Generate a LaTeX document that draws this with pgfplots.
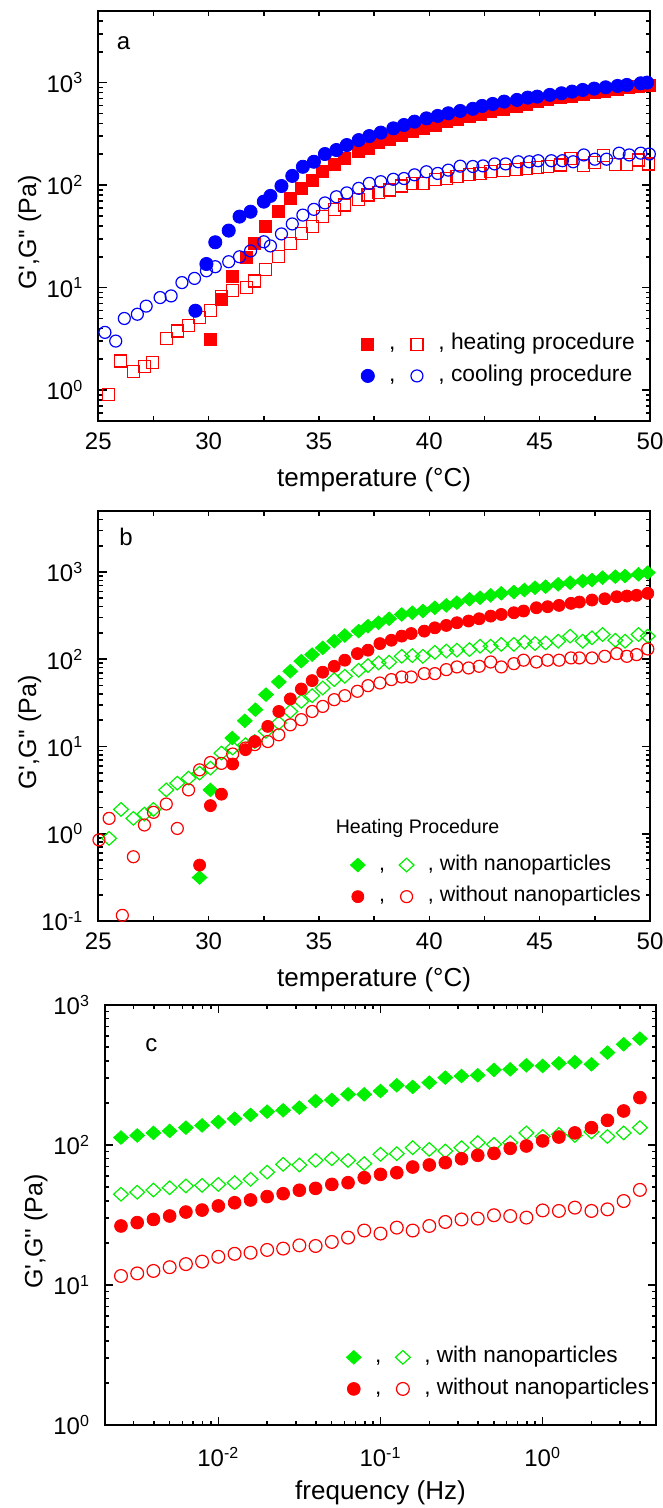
\documentclass[border=0pt]{standalone}
\usepackage{fontspec}
\setmainfont{Liberation Sans}
\usepackage{pgfplots}
\pgfplotsset{compat=1.18}
\definecolor{cred}{RGB}{255,0,0}
\definecolor{cblue}{RGB}{0,0,255}
\definecolor{cgreen}{RGB}{0,240,0}
\pgfplotsset{
  myaxis/.style={
    scale only axis,
    anchor=south west,
    axis line style={line width=1pt},
    tick style={line width=0.8pt, black},
    major tick length=4.2pt,
    minor tick length=2.2pt,
    tick align=inside,
    xtick pos=both, ytick pos=both,
    xticklabel pos=bottom, yticklabel pos=left,
    tick label style={font=\fontsize{12}{14}\selectfont},
    xticklabel style={yshift=-2.5pt},
    yticklabel style={xshift=-4pt},
    every axis y label/.style={at={(axis description cs:-0.1245,0.46)}, rotate=90, anchor=center, font=\fontsize{12.5}{15}\selectfont},
    every axis x label/.style={at={(axis description cs:0.5,-0.144)}, anchor=center, font=\fontsize{13}{15}\selectfont},
    legend cell align=left,
    legend image code/.code={\path (0pt,0pt) (13pt,0pt); \draw[mark repeat=2,mark phase=2] plot coordinates {(0pt,0pt)(6.5pt,0pt)(13pt,0pt)};},
    legend style={draw=none, fill=none, legend columns=2, inner sep=0pt, row sep=4.5pt,
      nodes={inner xsep=4pt, inner ysep=1pt, text height=0.72em, text depth=0.21em}, anchor=north west},
  },
  fsq/.style={only marks, mark=square*, color=cred, mark size=3pt},
  osq/.style={only marks, mark=square, color=cred, mark size=3pt, mark options={fill=white, line width=0.6pt}},
  fci/.style={only marks, mark=*, color=#1, mark size=3.3pt},
  oci/.style={only marks, mark=o, color=#1, mark size=3pt, mark options={fill=white, line width=0.6pt}},
  fdi/.style={only marks, mark=diamond*, color=cgreen, mark size=3.4pt, mark options={xscale=1.45}},
  odi/.style={only marks, mark=diamond, color=cgreen, mark size=3.4pt, mark options={xscale=1.45, fill=white, line width=0.6pt}},
}
\begin{document}
\begin{tikzpicture}
\path[use as bounding box] (0,0) rectangle (331.5pt,754pt);
% ---------------- panel a
\begin{axis}[myaxis, at={(49.15pt,543.5pt)}, width=275.85pt, height=205pt,
  xmin=25, xmax=50, ymode=log, ymin=0.5, ymax=5000,
  xtick={25,30,35,40,45,50}, xticklabels={25,30,35,40,45,50}, minor x tick num=1,
  xtick style={/pgfplots/major tick length=2.6pt, /pgfplots/minor tick length=2.6pt},
  ytick={1,10,100,1000}, yticklabels={10\textsuperscript{0},10\textsuperscript{1},10\textsuperscript{2},10\textsuperscript{3}},
  minor ytick={0.5,0.6,0.7,0.8,0.9,2,3,4,5,6,7,8,9,20,30,40,50,60,70,80,90,200,300,400,500,600,700,800,900,2000,3000,4000,5000},
  xlabel={temperature (°C)}, ylabel={G\textquotesingle,G\textquotesingle\textquotesingle{} (Pa)},
  legend style={at={(rel axis cs:0.4635,0.2155)}, font=\fontsize{11.4}{13}\selectfont},
]
\addplot[fsq] coordinates {(30.08,3.13)(30.58,7.7)(31.09,12.8)(31.7,19.8)(32.09,27)(32.59,39.3)(33.18,55)(33.7,74)(34.2,93)(34.69,112)(35.17,135)(35.69,160)(36.17,182)(36.8,212)(37.22,229)(37.7,260)(38.18,280)(38.75,308)(39.23,332)(39.71,358)(40.29,386)(40.77,416)(41.25,438)(41.82,466)(42.30,494)(42.78,521)(43.35,550)(43.93,583)(44.41,619)(44.89,653)(45.36,688)(45.94,719)(46.42,741)(46.99,769)(47.47,798)(47.95,829)(48.52,861)(49.0,894)(49.48,928)(49.96,949)};
\addlegendentry{,}
\addplot[osq] coordinates {(25.46,0.91)(25.99,1.92)(26.59,1.53)(27.09,1.69)(27.47,1.86)(28.08,3.2)(28.59,3.77)(29.09,4.3)(29.59,5.1)(30.08,6.0)(30.58,8.15)(31.09,9.3)(31.7,10.1)(32.09,11.6)(32.59,15.1)(33.18,20)(33.70,27)(34.20,33.8)(34.69,39.3)(35.17,49.2)(35.69,58)(36.17,64)(36.80,73)(37.22,80)(37.70,84)(38.18,89.5)(38.75,98)(39.23,104)(39.71,104)(40.29,114)(40.77,116)(41.25,121)(41.82,128)(42.30,130)(42.78,135)(43.35,138)(43.93,143)(44.41,146)(44.89,149)(45.36,151)(45.94,157)(46.42,181)(46.99,156)(47.47,166)(47.90,193)(48.45,158)(48.94,158)(49.47,176)(49.92,161)};
\addlegendentry{, heating procedure}
\addplot[fci=cblue] coordinates {(29.4,5.95)(29.9,17)(30.3,27.7)(30.91,36)(31.4,49.3)(31.9,55)(32.5,69)(32.8,78.5)(33.3,98)(33.79,123)(34.27,151)(34.77,169)(35.27,201)(35.79,220)(36.26,246)(36.8,275)(37.28,301)(37.8,325)(38.37,358)(38.85,386)(39.33,416)(39.87,448)(40.38,473)(40.86,502)(41.4,529)(41.97,555)(42.39,592)(42.87,619)(43.39,653)(43.97,678)(44.46,714)(44.89,730)(45.46,759)(45.99,787)(46.47,817)(46.95,848)(47.47,874)(47.99,900)(48.53,928)(48.95,949)(49.58,985)(49.87,1000)};
\addlegendentry{,}
\addplot[oci=cblue] coordinates {(25.3,3.66)(25.79,3.01)(26.18,5.0)(26.77,5.5)(27.17,6.6)(27.8,8.0)(28.3,8.3)(28.79,11.2)(29.36,12.3)(29.9,14.6)(30.3,16)(30.91,17.9)(31.4,20)(31.9,22.8)(32.5,28)(32.8,25.5)(33.3,33.4)(33.79,41.8)(34.27,51)(34.77,58)(35.27,67)(35.79,77)(36.26,84)(36.8,93)(37.28,104)(37.8,108)(38.37,114)(38.85,116)(39.33,126)(39.87,135)(40.38,130)(40.86,140)(41.4,153)(41.97,152)(42.43,154)(42.96,161)(43.46,161)(44.03,169)(44.53,169)(44.93,173)(45.53,173)(46.03,173)(46.52,169)(47.0,197)(47.5,179)(48.03,179)(48.6,205)(49.06,197)(49.58,205)(49.97,201)};
\addlegendentry{, cooling procedure}
\node[font=\fontsize{12}{14}\selectfont] at (rel axis cs:0.0457,0.922) {a};
\end{axis}
% ---------------- panel b
\begin{axis}[myaxis, at={(49.15pt,293.5pt)}, width=275.85pt, height=205pt,
  xmin=25, xmax=50, ymode=log, ymin=0.1, ymax=5000,
  xtick={25,30,35,40,45,50}, xticklabels={25,30,35,40,45,50}, minor x tick num=1,
  xtick style={/pgfplots/major tick length=2.6pt, /pgfplots/minor tick length=2.6pt},
  ytick={0.1,1,10,100,1000}, yticklabels={10\textsuperscript{-1},10\textsuperscript{0},10\textsuperscript{1},10\textsuperscript{2},10\textsuperscript{3}},
  minor ytick={0.2,0.3,0.4,0.5,0.6,0.7,0.8,0.9,2,3,4,5,6,7,8,9,20,30,40,50,60,70,80,90,200,300,400,500,600,700,800,900,2000,3000,4000,5000},
  xlabel={temperature (°C)}, ylabel={G\textquotesingle,G\textquotesingle\textquotesingle{} (Pa)},
  legend style={at={(rel axis cs:0.4454,0.165)}, font=\fontsize{10.7}{13}\selectfont},
]
\addplot[fdi] coordinates {(29.59,0.315)(30.08,3.18)(31.07,12.5)(31.64,19.7)(32.12,26.4)(32.6,39.3)(33.18,55)(33.7,72.8)(34.2,95)(34.69,113)(35.17,135)(35.69,161)(36.17,187)(36.8,210)(37.22,239)(37.7,262)(38.18,291)(38.75,326)(39.23,341)(39.71,357)(40.25,389)(40.77,414)(41.25,445)(41.82,486)(42.3,507)(42.78,540)(43.26,569)(43.83,589)(44.31,621)(44.79,660)(45.27,678)(45.84,722)(46.38,754)(46.95,788)(47.37,809)(47.85,861)(48.43,884)(48.87,899)(49.48,940)(49.9,983)};
\addlegendentry{,}
\addplot[odi] coordinates {(25.49,0.885)(26.03,1.9)(26.59,1.5)(27.09,1.68)(27.5,1.9)(28.08,3.18)(28.58,3.8)(29.09,4.34)(29.59,4.95)(30.08,5.65)(30.58,8.4)(31.09,9.6)(31.67,10.5)(32.09,11.4)(32.59,14.9)(33.18,18.6)(33.7,25.2)(34.2,32.9)(34.69,38.2)(35.17,46.8)(35.69,58.4)(36.17,63.8)(36.8,74.8)(37.22,84.5)(37.7,90.7)(38.18,92.4)(38.75,108)(39.23,110)(39.71,108)(40.25,120)(40.77,124)(41.25,127)(41.82,129)(42.3,141)(42.78,141)(43.26,148)(43.83,148)(44.31,157)(44.79,151)(45.27,154)(45.84,161)(46.38,184)(46.95,161)(47.37,176)(47.85,192)(48.43,165)(48.87,161)(49.48,192)(49.9,184)};
\addlegendentry{, with nanoparticles}
\addplot[fci=cred, mark size=3pt] coordinates {(29.59,0.437)(30.08,2.1)(30.58,2.84)(31.09,6.3)(31.67,9.2)(32.09,11.4)(32.68,17)(33.18,25.2)(33.7,35.1)(34.2,45.6)(34.69,56.9)(35.17,71)(35.69,83)(36.17,97.5)(36.74,116)(37.22,127)(37.76,151)(38.28,165)(38.75,184)(39.18,197)(39.77,210)(40.25,229)(40.77,244)(41.25,262)(41.78,274)(42.26,291)(42.78,312)(43.26,326)(43.83,341)(44.27,357)(44.85,389)(45.36,400)(45.88,414)(46.42,437)(46.8,452)(47.37,477)(47.95,493)(48.49,520)(48.95,530)(49.39,540)(49.9,569)};
\addlegendentry{,}
\addplot[oci=cred] coordinates {(25.03,0.85)(25.49,1.5)(26.09,0.116)(26.59,0.545)(27.09,1.26)(27.5,1.76)(28.08,2.19)(28.58,1.15)(29.09,3.18)(29.59,5.4)(30.08,6.55)(30.58,6.4)(31.09,8.2)(31.67,9.6)(32.09,10.5)(32.68,11.4)(33.18,13.6)(33.7,17.7)(34.2,20.3)(34.69,25.2)(35.17,28.8)(35.69,34.4)(36.17,38.2)(36.74,42.9)(37.22,49.8)(37.76,53.4)(38.28,58.4)(38.75,62.6)(39.18,62.6)(39.77,68.4)(40.25,68.4)(40.77,76)(41.25,81.6)(41.78,79.4)(42.26,83)(42.78,93)(43.26,81.6)(43.83,89)(44.27,97.5)(44.85,93)(45.36,97.5)(45.88,97.5)(46.42,103.5)(46.8,103.5)(47.37,103.5)(47.95,108)(48.49,116)(48.95,108)(49.39,113)(49.9,131)};
\addlegendentry{, without nanoparticles}
\node[font=\fontsize{12}{14}\selectfont] at (rel axis cs:0.0502,0.936) {b};
\node[font=\fontsize{9.8}{12}\selectfont] at (rel axis cs:0.5786,0.2268) {Heating Procedure};
\end{axis}
% ---------------- panel c
\begin{axis}[myaxis, at={(52.5pt,41.5pt)}, width=275.5pt, height=210pt,
  xmode=log, xmin=0.002, xmax=5, ymode=log, ymin=1, ymax=1000,
  xticklabel style={yshift=-5pt},
  xtick={0.01,0.1,1}, xticklabels={10\textsuperscript{-2},10\textsuperscript{-1},10\textsuperscript{0}},
  minor xtick={0.002,0.003,0.004,0.005,0.006,0.007,0.008,0.009,0.02,0.03,0.04,0.05,0.06,0.07,0.08,0.09,0.2,0.3,0.4,0.5,0.6,0.7,0.8,0.9,2,3,4,5},
  ytick={1,10,100,1000}, yticklabels={10\textsuperscript{0},10\textsuperscript{1},10\textsuperscript{2},10\textsuperscript{3}},
  minor ytick={2,3,4,5,6,7,8,9,20,30,40,50,60,70,80,90,200,300,400,500,600,700,800,900},
  xlabel={frequency (Hz)}, ylabel={G\textquotesingle,G\textquotesingle\textquotesingle{} (Pa)},
  every axis x label/.style={at={(axis description cs:0.5,-0.162)}, anchor=center, font=\fontsize{13}{15}\selectfont},
  every axis y label/.style={at={(axis description cs:-0.1252,0.46)}, rotate=90, anchor=center, font=\fontsize{12.5}{15}\selectfont},
  legend style={at={(rel axis cs:0.4265,0.189)}, font=\fontsize{11.3}{13}\selectfont},
]
\addplot[fdi] coordinates {(0.00251,113)(0.00316,117)(0.00398,122)(0.00501,126)(0.00631,133)(0.00794,138)(0.01,146)(0.0126,154)(0.0158,164)(0.02,173)(0.0251,177)(0.0316,185)(0.0398,206)(0.0501,210)(0.0631,230)(0.0794,230)(0.1,243)(0.126,267)(0.158,260)(0.2,279)(0.251,303)(0.316,311)(0.398,315)(0.501,344)(0.631,347)(0.794,371)(1,367)(1.26,383)(1.58,391)(2,377)(2.51,457)(3.16,524)(3.98,575)};
\addlegendentry{,}
\addplot[odi] coordinates {(0.00251,44.5)(0.00316,46)(0.00398,47.7)(0.00501,49.5)(0.00631,51)(0.00794,51.5)(0.01,52.3)(0.0126,53.8)(0.0158,56.9)(0.02,64)(0.0251,72.8)(0.0316,72)(0.0398,77.6)(0.0501,79.8)(0.0631,77.6)(0.0794,73.6)(0.1,85.8)(0.126,86.7)(0.158,95.7)(0.2,93)(0.251,90.6)(0.316,95.7)(0.398,104)(0.501,101)(0.631,104)(0.794,122)(1,115)(1.26,119)(1.58,117)(2,124)(2.51,115)(3.16,122)(3.98,133)};
\addlegendentry{, with nanoparticles}
\addplot[fci=cred, mark size=3.2pt] coordinates {(0.00251,26.4)(0.00316,27.9)(0.00398,29.4)(0.00501,31.1)(0.00631,33.2)(0.00794,34.3)(0.01,36.7)(0.0126,38.7)(0.0158,40.5)(0.02,42.8)(0.0251,44.9)(0.0316,47.5)(0.0398,49)(0.0501,52.3)(0.0631,53.8)(0.0794,58.4)(0.1,61.7)(0.126,63.4)(0.158,69.6)(0.2,72)(0.251,74.8)(0.316,79.8)(0.398,84.4)(0.501,87.1)(0.631,94.7)(0.794,98.4)(1,107)(1.26,114)(1.58,122)(2,133)(2.51,150)(3.16,175)(3.98,218)};
\addlegendentry{,}
\addplot[oci=cred, mark size=3.2pt] coordinates {(0.00251,11.6)(0.00316,12.1)(0.00398,12.6)(0.00501,13.4)(0.00631,14.1)(0.00794,14.7)(0.01,15.9)(0.0126,16.7)(0.0158,17.0)(0.02,17.8)(0.0251,18.2)(0.0316,19.2)(0.0398,19.0)(0.0501,20.3)(0.0631,21.8)(0.0794,24.5)(0.1,23.3)(0.126,25.7)(0.158,24.5)(0.2,26.4)(0.251,28.2)(0.316,29.4)(0.398,29.8)(0.501,31.5)(0.631,31.1)(0.794,30.3)(1,34.1)(1.26,33.8)(1.58,35.7)(2,33.8)(2.51,34.7)(3.16,39.8)(3.98,47.8)};
\addlegendentry{, without nanoparticles}
\node[font=\fontsize{12}{14}\selectfont] at (rel axis cs:0.0842,0.905) {c};
\end{axis}
\end{tikzpicture}
\end{document}
